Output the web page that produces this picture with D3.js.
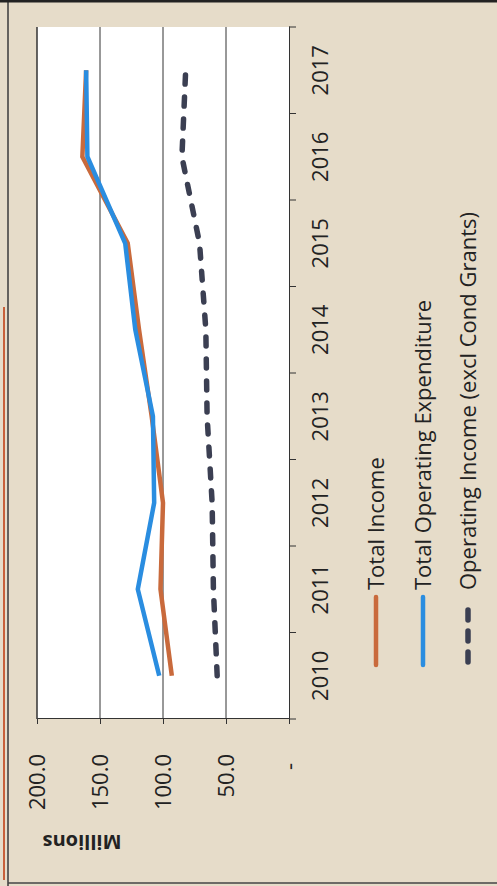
<!DOCTYPE html>
<head lang="en">
<meta charset="utf-8">
<title>Income and Expenditure</title>
<style>
body { margin:0; background:#e6dcc9; }
text { font-family:"Open Sans","sans-serif"; fill:#222; }
</style>
<script src="https://cdn.jsdelivr.net/npm/d3@7"></script>
</head>
<body>
<script>
// chart data (millions)
var years = ["2010", "2011", "2012", "2013", "2014", "2015", "2016", "2017"];
var totalIncome = [93, 102, 100, 109, 119, 128, 164, 161];
var totalOpExp = [103, 120, 107, 108, 122, 130, 160, 161];
var opIncome = [57, 60, 61, 65, 66, 71, 85, 82];
var valueTicks = [0, 50, 100, 150, 200];
var seriesNames = ["Total Income", "Total Operating Expenditure", "Operating Income (excl Cond Grants)"];

// page is the scan turned on its side, so draw the chart upright and rotate it
var W = 886, H = 497;

var svg = d3.select("body").append("svg")
    .attr("width", H)
    .attr("height", W);

var g = svg.append("g")
    .attr("transform", "translate(0," + W + ") rotate(-90)");

g.append("rect")
    .attr("width", W).attr("height", H)
    .attr("fill", "#e6dcc9");

// scan edges
g.append("line").attr("x1", 0).attr("x2", W).attr("y1", 8).attr("y2", 8)
    .style("stroke", "#3a3a3a").style("stroke-width", "1.5px");
g.append("line").attr("x1", W - 1).attr("x2", W - 1).attr("y1", 0).attr("y2", H)
    .style("stroke", "#222").style("stroke-width", "3px");
g.append("line").attr("x1", 3).attr("x2", 3).attr("y1", 8).attr("y2", H)
    .style("stroke", "#444").style("stroke-width", "1.5px");
g.append("line").attr("x1", 6).attr("x2", 579).attr("y1", 4).attr("y2", 4)
    .style("stroke", "#c8603a").style("stroke-width", "2px");

var x = d3.scaleBand().domain(years).range([167, 859]);
var y = d3.scaleLinear().domain([0, 200]).range([289, 37]);

g.append("rect")
    .attr("x", 167).attr("y", 37)
    .attr("width", 692).attr("height", 252)
    .attr("fill", "#fff");

// gridlines
g.selectAll("line.grid")
    .data(valueTicks.slice(1))
    .enter()
    .append("line")
        .attr("class", "grid")
        .attr("x1", 167).attr("x2", 859)
        .attr("y1", function(d) { return y(d); })
        .attr("y2", function(d) { return y(d); })
        .style("stroke", "#333")
        .style("stroke-width", function(d) { return d === 200 ? "1.5px" : "1px"; });

// value axis
var yAxis = g.append("g")
    .attr("transform", "translate(167,0)")
    .call(d3.axisLeft(y).tickValues(valueTicks).tickSize(5).tickPadding(30)
        .tickFormat(function(d) { return d === 0 ? "-" : d3.format(".1f")(d); }));
yAxis.select(".domain").style("stroke", "#333");
yAxis.selectAll(".tick line").style("stroke", "#333");
yAxis.selectAll("text")
    .style("font-size", "22px")
    .attr("dx", function(d) { return d === 0 ? "-9px" : 0; });

// category axis
var xAxis = g.append("g")
    .attr("transform", "translate(0,289)")
    .call(d3.axisBottom(x).tickSize(0).tickPadding(23));
xAxis.select(".domain").style("stroke", "#333");
xAxis.selectAll("text").style("font-size", "22px");
xAxis.selectAll("line.sep")
    .data(d3.range(years.length + 1))
    .enter()
    .append("line")
        .attr("class", "sep")
        .attr("x1", function(d) { return 167 + d * x.step(); })
        .attr("x2", function(d) { return 167 + d * x.step(); })
        .attr("y1", 0).attr("y2", 7)
        .style("stroke", "#333");

var line = d3.line()
    .x(function(d, i) { return x(years[i]) + x.bandwidth() / 2; })
    .y(function(d) { return y(d); });

var series = [
    { name: seriesNames[0], values: totalIncome, color: "#c96a3c", dash: null },
    { name: seriesNames[1], values: totalOpExp, color: "#2a8de0", dash: null },
    { name: seriesNames[2], values: opIncome, color: "#3b3f52", dash: "9,13" }
];

g.selectAll("path.series")
    .data(series)
    .enter()
    .append("path")
        .attr("class", "series")
        .attr("d", function(d) { return line(d.values); })
        .attr("fill", "none")
        .style("stroke", function(d) { return d.color; })
        .style("stroke-width", function(d) { return d.dash ? "5.5px" : "4.5px"; })
        .style("stroke-dasharray", function(d) { return d.dash; })
        .style("stroke-linecap", function(d) { return d.dash ? "round" : "butt"; });

// legend
var legendY = [376, 423, 468];
var legend = g.selectAll("g.legend")
    .data(series)
    .enter()
    .append("g")
        .attr("class", "legend")
        .attr("transform", function(d, i) { return "translate(0," + legendY[i] + ")"; });
legend.append("line")
    .attr("x1", function(d) { return d.dash ? 224 : 221; })
    .attr("x2", function(d) { return d.dash ? 286 : 289; })
    .style("stroke", function(d) { return d.color; })
    .style("stroke-width", function(d) { return d.dash ? "5.5px" : "4.5px"; })
    .style("stroke-dasharray", function(d) { return d.dash ? "10,11" : null; })
    .style("stroke-linecap", "round");
legend.append("text")
    .attr("x", 296)
    .attr("dy", "0.35em")
    .style("font-size", "22px")
    .text(function(d) { return d.name; });

// display units label
g.append("text")
    .attr("transform", "translate(44,82) rotate(-90)")
    .attr("text-anchor", "middle")
    .attr("dy", "0.35em")
    .style("font-size", "20px")
    .style("font-weight", "bold")
    .text("Millions");
</script>
</body>
</html>
